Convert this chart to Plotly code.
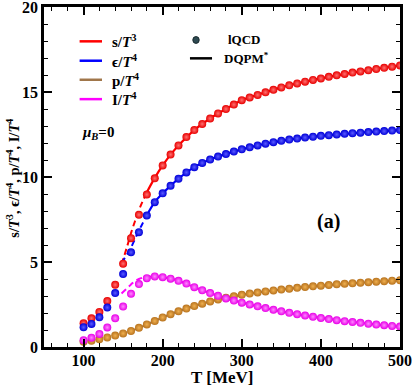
import plotly.graph_objects as go

# --- lQCD points (T in MeV) ---
T_lqcd = list(range(100, 501, 10))
s_lqcd = [1.40, 1.69, 2.06, 2.70, 3.66, 4.90, 6.40, 7.78, 8.97, 9.92,
          10.68, 11.32, 11.86, 12.35, 12.76, 13.12, 13.44, 13.74, 14.00, 14.26,
          14.52, 14.68, 14.83, 14.98, 15.13, 15.27, 15.39, 15.50, 15.61, 15.71,
          15.80, 15.89, 15.98, 16.06, 16.14, 16.21, 16.28, 16.35, 16.42, 16.49, 16.56]
e_lqcd = [1.16, 1.36, 1.75, 2.32, 3.17, 4.29, 5.57, 6.75, 7.73, 8.52,
          9.04, 9.48, 9.90, 10.27, 10.58, 10.83, 11.03, 11.20, 11.35, 11.50,
          11.63, 11.75, 11.86, 11.96, 12.05, 12.13, 12.20, 12.26, 12.32, 12.37,
          12.42, 12.46, 12.50, 12.54, 12.58, 12.61, 12.64, 12.67, 12.70, 12.73, 12.76]
p_lqcd = [0.31, 0.37, 0.46, 0.56, 0.67, 0.80, 0.94, 1.13, 1.33, 1.53,
          1.74, 1.93, 2.10, 2.26, 2.41, 2.55, 2.68, 2.80, 2.90, 2.99,
          3.07, 3.14, 3.21, 3.27, 3.33, 3.38, 3.43, 3.48, 3.53, 3.57,
          3.61, 3.65, 3.69, 3.72, 3.75, 3.78, 3.81, 3.84, 3.87, 3.90, 3.92]
I_lqcd = [0.40, 0.55, 0.77, 1.15, 1.69, 2.38, 3.13, 3.70, 4.05, 4.15,
          4.11, 4.02, 3.89, 3.73, 3.52, 3.34, 3.17, 3.01, 2.86, 2.73,
          2.61, 2.50, 2.39, 2.29, 2.19, 2.10, 2.01, 1.93, 1.85, 1.78,
          1.71, 1.64, 1.58, 1.52, 1.47, 1.42, 1.37, 1.32, 1.28, 1.24, 1.20]

# --- DQPM* curves: dashed below ~180 MeV, solid above ---
T_dash = [148, 155, 160, 165, 170, 175, 180]
s_dash = [4.85, 5.90, 6.70, 7.40, 8.05, 8.60, 9.10]
e_dash = [4.95, 5.45, 5.85, 6.35, 6.85, 7.30, 7.75]
p_dash = [0.78, 0.86, 0.93, 1.03, 1.12, 1.22, 1.32]
I_dash = [3.15, 3.45, 3.68, 3.88, 4.00, 4.08, 4.13]

T_dq = [180, 190, 200, 210, 220, 240, 260, 280, 300, 325, 350, 375, 400, 450, 500]
s_dq = [9.10, 9.95, 10.68, 11.32, 11.86, 12.76, 13.44, 14.00, 14.52, 14.91, 15.27, 15.56, 15.80, 16.21, 16.56]
e_dq = [7.75, 8.52, 9.04, 9.48, 9.90, 10.58, 11.03, 11.35, 11.63, 11.91, 12.13, 12.29, 12.42, 12.61, 12.76]
p_dq = [1.32, 1.53, 1.74, 1.93, 2.10, 2.41, 2.68, 2.90, 3.07, 3.24, 3.38, 3.51, 3.61, 3.78, 3.92]
I_dq = [4.13, 4.16, 4.11, 4.02, 3.89, 3.52, 3.17, 2.86, 2.61, 2.34, 2.10, 1.89, 1.71, 1.42, 1.20]

FONT = "Liberation Serif"

# (line colour, dot edge colour, dot highlight colour)
series = [
    ("s", s_lqcd, s_dash, s_dq, "#FF0000", "#E80000", "#FF7070"),
    ("e", e_lqcd, e_dash, e_dq, "#0000FF", "#0000D8", "#5A5AFF"),
    ("p", p_lqcd, p_dash, p_dq, "#A0764A", "#B8731E", "#F0B050"),
    ("I", I_lqcd, I_dash, I_dq, "#FF00FF", "#E800E8", "#FF88FF"),
]

fig = go.Figure()

for name, pts, yd, ys, lc, mc, hc in series:
    fig.add_trace(go.Scatter(x=T_dash, y=yd, mode="lines", showlegend=False,
                             line=dict(color=lc, width=2, dash="6px,4px", shape="spline")))
    fig.add_trace(go.Scatter(x=T_dq, y=ys, mode="lines", showlegend=False,
                             line=dict(color=lc, width=2.2, shape="spline")))

for name, pts, yd, ys, lc, mc, hc in series:
    fig.add_trace(go.Scatter(x=T_lqcd, y=pts, mode="markers", showlegend=False,
                             marker=dict(size=8, color=mc, line=dict(width=0),
                                         gradient=dict(type="radial", color=hc))))

# --- hand-drawn legend (paper coords) ---
leg_rows = [
    ("s/<i>T</i><sup>3</sup>", "#FF0000", 0.899),
    ("ϵ/<i>T</i><sup>4</sup>", "#0000FF", 0.842),
    ("p/<i>T</i><sup>4</sup>", "#A0764A", 0.786),
    ("I/<i>T</i><sup>4</sup>", "#FF00FF", 0.729),
]
shapes = []
annotations = []
for txt, col, yy in leg_rows:
    shapes.append(dict(type="line", xref="paper", yref="paper", x0=0.10, x1=0.163,
                       y0=yy, y1=yy, line=dict(color=col, width=2.5)))
    annotations.append(dict(text=txt, xref="paper", yref="paper", x=0.185, y=yy,
                            xanchor="left", yanchor="middle", showarrow=False,
                            font=dict(family=FONT, size=15, color="black", weight="bold")))

shapes.append(dict(type="circle", xref="paper", yref="paper", x0=0.418, x1=0.436,
                   y0=0.893, y1=0.913, fillcolor="#2E4A52", line=dict(color="#1A2A2E", width=1)))
shapes.append(dict(type="line", xref="paper", yref="paper", x0=0.41, x1=0.472,
                   y0=0.849, y1=0.849, line=dict(color="black", width=2.5)))
annotations.append(dict(text="lQCD", xref="paper", yref="paper", x=0.51, y=0.903,
                        xanchor="left", yanchor="middle", showarrow=False,
                        font=dict(family=FONT, size=13, color="black", weight="bold")))
annotations.append(dict(text="DQPM<sup>*</sup>", xref="paper", yref="paper", x=0.50, y=0.849,
                        xanchor="left", yanchor="middle", showarrow=False,
                        font=dict(family=FONT, size=13, color="black", weight="bold")))
annotations.append(dict(text="<i>μ</i><sub><i>B</i></sub>=0", xref="paper", yref="paper",
                        x=0.10, y=0.628, xanchor="left", yanchor="middle", showarrow=False,
                        font=dict(family=FONT, size=15, color="black", weight="bold")))
annotations.append(dict(text="(a)", xref="paper", yref="paper", x=0.80, y=0.369,
                        xanchor="center", yanchor="middle", showarrow=False,
                        font=dict(family=FONT, size=20, color="black", weight="bold")))
# axis titles placed by hand
annotations.append(dict(text="T [MeV]", xref="paper", yref="paper", x=0.5, y=-0.09,
                        xanchor="center", yanchor="middle", showarrow=False,
                        font=dict(family=FONT, size=17, color="black", weight="bold")))
annotations.append(dict(text="s/<i>T</i><sup>3</sup>, ϵ/<i>T</i><sup>4</sup>, p/<i>T</i><sup>4</sup>, I/<i>T</i><sup>4</sup>",
                        xref="paper", yref="paper", x=-0.088, y=0.497, textangle=-90,
                        xanchor="center", yanchor="middle", showarrow=False,
                        font=dict(family=FONT, size=14.5, color="black", weight="bold")))

axis_common = dict(showline=True, linecolor="black", linewidth=2.5, mirror="allticks",
                   ticks="inside", ticklen=8, tickwidth=1.5, tickcolor="black",
                   showgrid=False, zeroline=False, automargin=False,
                   ticklabeloverflow="allow",
                   tickfont=dict(family=FONT, size=16, color="black", weight="bold"))

fig.update_layout(
    width=414, height=391,
    margin=dict(l=44, r=14, t=7, b=44),
    paper_bgcolor="white", plot_bgcolor="white",
    showlegend=False,
    shapes=shapes, annotations=annotations,
    xaxis=dict(range=[50, 500], tick0=0, dtick=100, ticklabelstandoff=-3,
               minor=dict(dtick=20, ticks="inside", ticklen=4, tickwidth=1.2, tickcolor="black"),
               **axis_common),
    yaxis=dict(range=[0, 20], tick0=0, dtick=5,
               minor=dict(dtick=1, ticks="inside", ticklen=4, tickwidth=1.2, tickcolor="black"),
               **axis_common),
)

fig.write_html("out.html", config={"displayModeBar": False},
               post_script="document.body.style.margin='0';document.body.style.overflow='hidden';")
